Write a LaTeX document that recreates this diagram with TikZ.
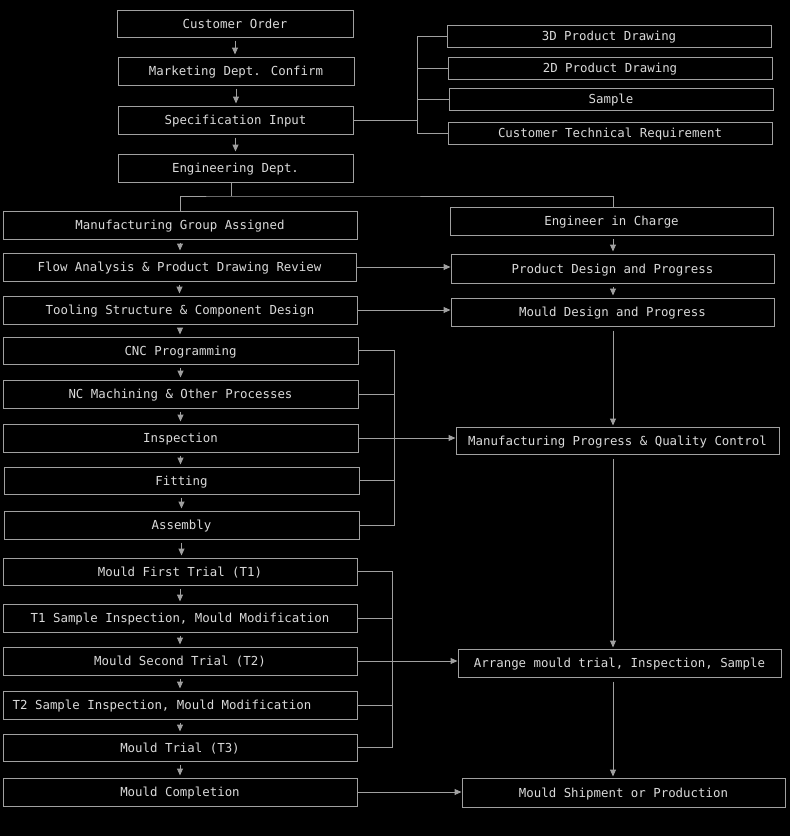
\documentclass[tikz,border=0pt]{standalone}
\usepackage{fontspec}
\newfontfamily\lblfont{DejaVu Sans Mono}
\usetikzlibrary{arrows.meta}
\definecolor{linegray}{HTML}{A0A0A0}
\definecolor{textgray}{HTML}{DADADA}
\tikzset{
  box/.style={draw=linegray, line width=1pt, fill=black, text=textgray, inner sep=0pt,
    text height=9.5pt, text depth=0pt,
    font=\lblfont\fontsize{12.4}{14}\selectfont},
  conn/.style={draw=linegray, line width=1pt},
  arr/.style={conn, -{Triangle[length=7pt,width=6pt]}},
  varr/.style={arr, shorten <=3pt, shorten >=2pt}
}
\begin{document}
\begin{tikzpicture}[x=1pt,y=-1pt]
\fill[black] (0,0) rectangle (790,836);
\useasboundingbox (0,0) rectangle (790,836);

% top left column
\node[box, minimum width=236pt, minimum height=27pt] (co) at (235,23.5) {Customer Order};
\node[box, minimum width=236pt, minimum height=28pt] (md) at (236,71) {Marketing Dept. Confirm};
\node[box, minimum width=235pt, minimum height=28pt] (si) at (235.5,120) {Specification Input};
\node[box, minimum width=235pt, minimum height=28pt] (ed) at (235.5,168) {Engineering Dept.};

% top right inputs
\node[box, minimum width=324pt, minimum height=22pt] (d3) at (609,36) {3D Product Drawing};
\node[box, minimum width=324pt, minimum height=22pt] (d2) at (610,68) {2D Product Drawing};
\node[box, minimum width=324pt, minimum height=22pt] (sa) at (611,99) {Sample};
\node[box, minimum width=324pt, minimum height=22pt] (ctr) at (610,133) {Customer Technical Requirement};

% left column
\node[box, minimum width=354pt, minimum height=28pt] (mga) at (180,225) {Manufacturing Group Assigned};
\node[box, minimum width=353pt, minimum height=28pt] (fa) at (179.5,267) {Flow Analysis \& Product Drawing Review};
\node[box, minimum width=354pt, minimum height=28pt] (ts) at (180,310) {Tooling Structure \& Component Design};
\node[box, minimum width=355pt, minimum height=27pt] (cnc) at (180.5,350.5) {CNC Programming};
\node[box, minimum width=355pt, minimum height=28pt] (nc) at (180.5,394) {NC Machining \& Other Processes};
\node[box, minimum width=355pt, minimum height=28pt] (ins) at (180.5,438) {Inspection};
\node[box, minimum width=355pt, minimum height=27pt] (fit) at (181.5,480.5) {Fitting};
\node[box, minimum width=355pt, minimum height=28pt] (asm) at (181.5,525) {Assembly};
\node[box, minimum width=354pt, minimum height=27pt] (t1) at (180,571.5) {Mould First Trial (T1)};
\node[box, minimum width=354pt, minimum height=28pt] (t1s) at (180,618) {T1 Sample Inspection, Mould Modification};
\node[box, minimum width=354pt, minimum height=28pt] (t2) at (180,661) {Mould Second Trial (T2)};
\node[box, minimum width=354pt, minimum height=28pt] (t2s) at (180,705) {T2 Sample Inspection, Mould Modification\hspace*{36pt}};
\node[box, minimum width=354pt, minimum height=27pt] (t3) at (180,747.5) {Mould Trial (T3)};
\node[box, minimum width=354pt, minimum height=28pt] (mc) at (180,792) {Mould Completion};

% right column
\node[box, minimum width=323pt, minimum height=28pt] (eic) at (611.5,221) {Engineer in Charge};
\node[box, minimum width=323pt, minimum height=29pt] (pd) at (612.5,268.5) {Product Design and Progress};
\node[box, minimum width=323pt, minimum height=28pt] (mdp) at (612.5,312) {Mould Design and Progress};
\node[box, minimum width=323pt, minimum height=27pt] (mpqc) at (617.5,440.5) {Manufacturing Progress \& Quality Control};
\node[box, minimum width=323pt, minimum height=28pt] (amt) at (619.5,663) {Arrange mould trial, Inspection, Sample};
\node[box, minimum width=323pt, minimum height=29pt] (ms) at (623.5,792.5) {Mould Shipment or Production};

% helper coordinates
\coordinate (b1) at (417,120);
\coordinate (split) at (231,196);
\coordinate (b2) at (394,438);
\coordinate (b3) at (392,662);
\coordinate (rx) at (613,0);

% top column arrows
\draw[varr] (co.south) -- (co.south |- md.north);
\draw[varr] (md.south) -- (md.south |- si.north);
\draw[varr] (si.south) -- (si.south |- ed.north);

% input bracket
\draw[conn] (si.east) -- (si.east -| b1);
\draw[conn] (d3.west) -- (d3.west -| b1) -- (ctr.west -| b1) -- (ctr.west);
\draw[conn] (d2.west) -- (d2.west -| b1);
\draw[conn] (sa.west) -- (sa.west -| b1);

% engineering split
\draw[conn] (ed.south -| split) -- (split);
\draw[conn] (mga.north) |- (split) -| (eic.north -| rx);

% left column arrows
\draw[varr] (mga.south) -- (mga.south |- fa.north);
\draw[varr] (fa.south) -- (fa.south |- ts.north);
\draw[varr] (ts.south) -- (ts.south |- cnc.north);
\draw[varr] (cnc.south) -- (cnc.south |- nc.north);
\draw[varr] (nc.south) -- (nc.south |- ins.north);
\draw[varr] (ins.south) -- (ins.south |- fit.north);
\draw[varr] (fit.south) -- (fit.south |- asm.north);
\draw[varr] (asm.south) -- (asm.south |- t1.north);
\draw[varr] (t1.south) -- (t1.south |- t1s.north);
\draw[varr] (t1s.south) -- (t1s.south |- t2.north);
\draw[varr] (t2.south) -- (t2.south |- t2s.north);
\draw[varr] (t2s.south) -- (t2s.south |- t3.north);
\draw[varr] (t3.south) -- (t3.south |- mc.north);

% horizontal arrows
\draw[arr] (fa.east) -- (fa.east -| pd.west);
\draw[arr] (ts.east) -- (ts.east -| mdp.west);

% right column arrows
\draw[varr] (eic.south -| rx) -- (pd.north -| rx);
\draw[varr] (pd.south -| rx) -- (mdp.north -| rx);
\draw[arr, shorten <=4pt, shorten >=1pt] (mdp.south -| rx) -- (mpqc.north -| rx);
\draw[arr, shorten <=4pt, shorten >=1pt] (mpqc.south -| rx) -- (amt.north -| rx);
\draw[arr, shorten <=4pt, shorten >=1pt] (amt.south -| rx) -- (ms.north -| rx);

% bracket 2
\draw[conn] (cnc.east) -- (cnc.east -| b2) -- (asm.east -| b2) -- (asm.east);
\draw[conn] (nc.east) -- (nc.east -| b2);
\draw[conn] (fit.east) -- (fit.east -| b2);
\draw[arr] (ins.east) -- (ins.east -| mpqc.west);

% bracket 3
\draw[conn] (t1.east) -- (t1.east -| b3) -- (t3.east -| b3) -- (t3.east);
\draw[conn] (t1s.east) -- (t1s.east -| b3);
\draw[conn] (t2s.east) -- (t2s.east -| b3);
\draw[arr] (t2.east) -- (t2.east -| amt.west);

% final
\draw[arr] (mc.east) -- (mc.east -| ms.west);
\end{tikzpicture}
\end{document}
